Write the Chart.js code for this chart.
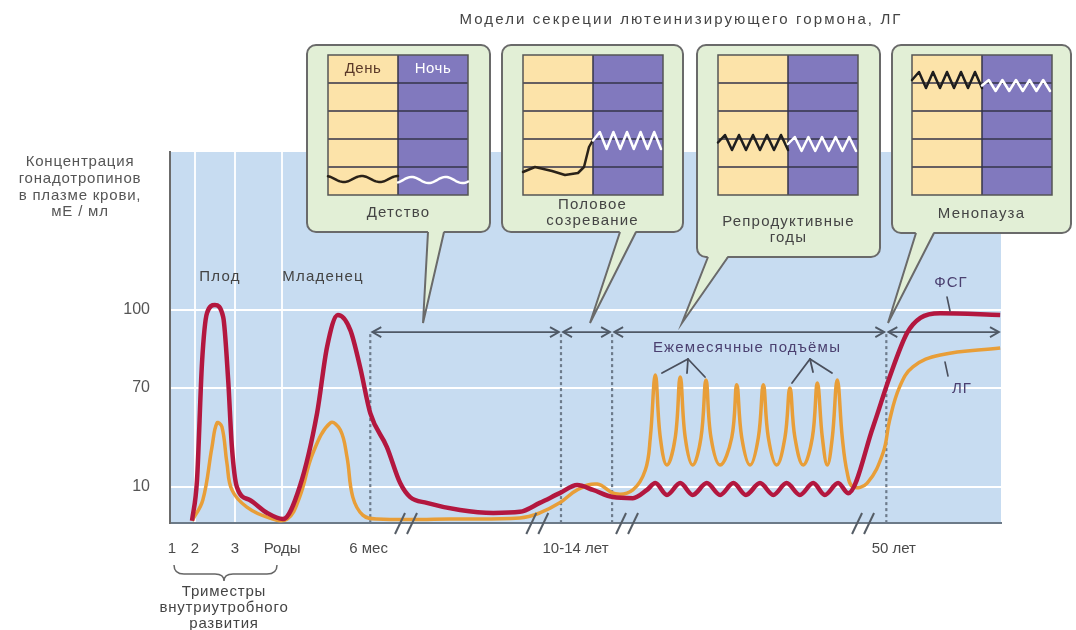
<!DOCTYPE html>
<html>
<head>
<meta charset="utf-8">
<script src="https://cdn.jsdelivr.net/npm/chart.js@4.4.1/dist/chart.umd.min.js"></script>
<style>
  html, body { margin: 0; background: #fff; }
  #wrap { width: 1076px; height: 630px; position: relative; }
</style>
</head>
<body>
<div id="wrap"><canvas id="c"></canvas></div>
<script>
// schematic time axis (0..100), breaks in the axis are only drawn marks
const xTickPos = [0.24, 3.0, 7.8, 13.5, 23.9, 48.8, 87.1];
const xTickLabels = ['1', '2', '3', 'Роды', '6 мес', '10-14 лет', '50 лет'];
const yTicks = [10, 70, 100];

// ФСГ
const fsgX = [2.65, 3.25, 3.85, 4.45, 5.4, 6.4, 7.0, 7.45, 8.05, 9.6, 11.7, 13.6, 15.6, 17.7, 18.9, 20.2, 21.7, 22.9, 24.1, 26.1,
  27.7, 28.9, 30.9, 34.9, 38.9, 42.1, 44.5, 46.9, 49.0, 50.9, 53.3, 55.7, 57.4, 58.4, 59.8, 61.4, 62.9, 64.6, 66.2, 67.8,
  69.3, 71.0, 72.6, 74.2, 75.8, 77.4, 78.8, 80.4, 81.6, 84.6, 86.6, 88.7, 90.3, 92.7, 99.9];
const fsgY = [0.6, 14.2, 79.6, 98.8, 101.9, 97.3, 73.1, 34.2, 10, 6.4, 2.8, 1.1, 10, 54.8, 85.8, 98.1, 92.3, 77.7, 54.8, 34.2,
  12.4, 7.2, 5.6, 3.6, 2.8, 3.1, 5.6, 8.3, 11.2, 9.2, 7.2, 6.9, 9.2, 12.4, 7.8, 12.4, 7.8, 12.4, 7.8, 12.4,
  7.8, 12.4, 7.8, 12.4, 7.8, 12.4, 7.8, 12.4, 8.3, 46.4, 74.2, 91.2, 97.0, 98.8, 98.1];

// ЛГ
const lhX = [2.65, 3.95, 5.05, 5.65, 6.25, 6.85, 7.45, 9.25, 12.0, 14.1, 15.6, 17.2, 19.3, 20.5, 21.3, 22.0, 23.2, 24.9, 33.7, 42.1,
  44.5, 46.9, 49.0, 51.4, 53.6, 55.7, 57.2, 57.8, 58.4, 59.0, 59.8, 60.8, 61.4, 62.0, 62.9, 63.9, 64.5, 65.1, 66.2, 67.6,
  68.2, 68.8, 69.8, 70.8, 71.4, 72.0, 73.0, 74.0, 74.6, 75.2, 76.2, 77.3, 77.9, 78.5, 79.1, 79.7, 80.3, 80.9, 81.5, 82.2,
  83.9, 85.8, 86.6, 87.8, 89.4, 92.7, 99.9];
const lhY = [0.6, 6.4, 34.2, 48.8, 46.4, 24.5, 9.2, 4.4, 1.4, 1.1, 7.2, 30.6, 48.8, 44.5, 28.2, 7.2, 2.2, 1.1, 1.1, 1.4,
  2.8, 5.6, 9.2, 11.8, 8.1, 9.2, 20.3, 40, 75, 40, 23.3, 40, 74.2, 40, 23.3, 40, 73.1, 40, 23.3, 40,
  71.2, 40, 23.3, 40, 71.2, 40, 23.3, 40, 70, 40, 23.3, 40, 71.9, 40, 23.3, 40, 73.1, 40, 18.5, 10,
  12.4, 30.6, 50.6, 70.4, 78.1, 82.7, 85.4];

const phaseX = [24.1, 47.05, 53.2, 86.2];
const breakX = [28.4, 44.2, 55.0, 83.4];
const arrowLevel = 91.5;

const FONT = '"Liberation Sans", Arial, sans-serif';

// y axis of the drawing is stretched piecewise (10 / 70 / 100 are not evenly spaced)
const yBreaks = [0, 10, 70, 100, 161];
const yFracs = [0, 0.097, 0.364, 0.574, 1];
class StepScale extends Chart.LinearScale {
  getPixelForValue(v) {
    let i = 1;
    while (i < yBreaks.length - 1 && v > yBreaks[i]) i++;
    const t = yFracs[i - 1] + (v - yBreaks[i - 1]) / (yBreaks[i] - yBreaks[i - 1]) * (yFracs[i] - yFracs[i - 1]);
    return this.getPixelForDecimal(t);
  }
  getValueForPixel(p) {
    const t = this.getDecimalForPixel(p);
    let i = 1;
    while (i < yFracs.length - 1 && t > yFracs[i]) i++;
    return yBreaks[i - 1] + (t - yFracs[i - 1]) / (yFracs[i] - yFracs[i - 1]) * (yBreaks[i] - yBreaks[i - 1]);
  }
}
StepScale.id = 'step';
StepScale.defaults = {};
Chart.register(StepScale);

function text(ctx, s, x, y, size, color, spacing, align) {
  ctx.save();
  ctx.font = size + 'px ' + FONT;
  ctx.fillStyle = color;
  ctx.textAlign = align || 'center';
  ctx.textBaseline = 'middle';
  ctx.letterSpacing = (spacing || 0) + 'px';
  ctx.fillText(s, x, y);
  ctx.restore();
}

function poly(ctx, pts, color, width) {
  ctx.save();
  ctx.beginPath();
  pts.forEach((p, i) => i ? ctx.lineTo(p[0], p[1]) : ctx.moveTo(p[0], p[1]));
  ctx.strokeStyle = color;
  ctx.lineWidth = width;
  ctx.lineJoin = 'round';
  ctx.lineCap = 'round';
  ctx.stroke();
  ctx.restore();
}

function zigzag(x0, x1, yTop, yBot, teeth) {
  const pts = [];
  const n = teeth * 2;
  for (let i = 0; i <= n; i++) {
    const y = i === 0 ? (yTop + yBot) / 2 : (i % 2 ? yTop : yBot);
    pts.push([x0 + (x1 - x0) * i / n, y]);
  }
  return pts;
}

function wave(x0, x1, yc, amp, period, phase) {
  const pts = [];
  for (let x = x0; x <= x1; x += 1) pts.push([x, yc + amp * Math.sin((x - x0) / period * 2 * Math.PI + phase)]);
  return pts;
}

const boxes = [
  { x: 307, y: 45, w: 183, h: 187, gx: 328, lines: ['Детство'], ly: [213], tail: [428, 444, 423, 323], mini: 'child' },
  { x: 502, y: 45, w: 181, h: 187, gx: 523, lines: ['Половое', 'созревание'], ly: [205, 221], tail: [620, 636, 590, 323], mini: 'puberty' },
  { x: 697, y: 45, w: 183, h: 212, gx: 718, lines: ['Репродуктивные', 'годы'], ly: [222, 238], tail: [708, 728, 682, 323], mini: 'repro' },
  { x: 892, y: 45, w: 179, h: 188, gx: 912, lines: ['Менопауза'], ly: [214], tail: [916, 934, 888, 323], mini: 'meno' }
];

function drawBox(ctx, b) {
  const bottom = b.y + b.h;
  ctx.save();
  ctx.beginPath();
  ctx.roundRect(b.x, b.y, b.w, b.h, 9);
  ctx.fillStyle = '#e2efd6';
  ctx.fill();
  ctx.strokeStyle = '#6a6a6a';
  ctx.lineWidth = 2;
  ctx.stroke();
  // tail
  const [t1, t2, tx, ty] = b.tail;
  ctx.beginPath();
  ctx.moveTo(t1, bottom - 1.5);
  ctx.lineTo(tx, ty);
  ctx.lineTo(t2, bottom - 1.5);
  ctx.closePath();
  ctx.fillStyle = '#e2efd6';
  ctx.fill();
  ctx.beginPath();
  ctx.moveTo(t1, bottom);
  ctx.lineTo(tx, ty);
  ctx.lineTo(t2, bottom);
  ctx.stroke();

  // mini chart
  const gx = b.gx, gy = 55, gw = 140, gh = 140, mid = gx + gw / 2;
  ctx.fillStyle = '#fce3a9';
  ctx.fillRect(gx, gy, gw / 2, gh);
  ctx.fillStyle = '#8179be';
  ctx.fillRect(mid, gy, gw / 2, gh);
  ctx.strokeStyle = '#34344a';
  ctx.lineWidth = 1.5;
  ctx.beginPath();
  for (let r = 1; r < 5; r++) {
    ctx.moveTo(gx, gy + r * gh / 5);
    ctx.lineTo(gx + gw, gy + r * gh / 5);
  }
  ctx.moveTo(mid, gy);
  ctx.lineTo(mid, gy + gh);
  ctx.stroke();
  ctx.strokeStyle = '#555';
  ctx.strokeRect(gx, gy, gw, gh);
  ctx.restore();

  if (b.mini === 'child') {
    text(ctx, 'День', gx + 35, 69, 15, '#5b3a29', 0.5);
    text(ctx, 'Ночь', mid + 35, 69, 15, '#ffffff', 0.5);
    poly(ctx, wave(gx, mid, 179, 3, 36, -1.2), '#2a2218', 2.5);
    poly(ctx, wave(mid, gx + gw, 180, 3, 34, 2.2), '#ffffff', 2.5);
  } else if (b.mini === 'puberty') {
    poly(ctx, [[gx, 172], [gx + 12, 167], [gx + 29, 171], [gx + 42, 175], [gx + 55, 173], [gx + 61, 167], [gx + 66, 147], [mid, 140]], '#2a2218', 2.5);
    poly(ctx, zigzag(mid, gx + gw - 2, 132, 149, 5), '#ffffff', 2.5);
  } else if (b.mini === 'repro') {
    poly(ctx, zigzag(gx, mid, 135, 150, 5), '#1e1e1e', 2.5);
    poly(ctx, zigzag(mid, gx + gw - 2, 137, 151, 5), '#ffffff', 2.5);
  } else {
    poly(ctx, zigzag(gx, mid, 72, 88, 5), '#1e1e1e', 2.5);
    poly(ctx, zigzag(mid, gx + gw - 2, 80, 91, 5), '#ffffff', 2.5);
  }
  b.lines.forEach((s, i) => text(ctx, s, b.x + b.w / 2, b.ly[i], 15, '#444', 1.2));
}

function chevron(ctx, x, y, dir) {
  ctx.beginPath();
  ctx.moveTo(x - dir * 9, y - 5);
  ctx.lineTo(x, y);
  ctx.lineTo(x - dir * 9, y + 5);
  ctx.stroke();
}

const deco = {
  id: 'deco',
  beforeDraw(chart) {
    const { ctx, chartArea: a } = chart;
    ctx.save();
    ctx.fillStyle = '#c7dcf1';
    ctx.fillRect(a.left, a.top, a.right - a.left, a.bottom - a.top);
    ctx.restore();
  },
  beforeDatasetsDraw(chart) {
    const { ctx, chartArea: a } = chart;
    const xs = chart.scales.x, ys = chart.scales.y;
    const ay = ys.getPixelForValue(arrowLevel);
    ctx.save();
    ctx.strokeStyle = '#6d7b8b';
    ctx.lineWidth = 2.2;
    ctx.setLineDash([3, 3]);
    phaseX.forEach(v => {
      const px = xs.getPixelForValue(v);
      ctx.beginPath();
      ctx.moveTo(px, ay + 2);
      ctx.lineTo(px, a.bottom);
      ctx.stroke();
    });
    ctx.setLineDash([]);
    ctx.strokeStyle = '#4f5966';
    ctx.lineWidth = 1.8;
    const ends = phaseX.concat([100]);
    for (let i = 0; i < ends.length - 1; i++) {
      const p0 = xs.getPixelForValue(ends[i]) + 2;
      const p1 = xs.getPixelForValue(ends[i + 1]) - 2;
      ctx.beginPath();
      ctx.moveTo(p0, ay);
      ctx.lineTo(p1, ay);
      ctx.stroke();
      chevron(ctx, p0, ay, -1);
      chevron(ctx, p1, ay, 1);
    }
    ctx.restore();
  },
  afterDatasetsDraw(chart) {
    const { ctx, chartArea: a } = chart;
    const xs = chart.scales.x;
    // axis breaks
    ctx.save();
    ctx.strokeStyle = '#555d66';
    ctx.lineWidth = 2;
    breakX.forEach(v => {
      const px = xs.getPixelForValue(v);
      [-6, 6].forEach(d => {
        ctx.beginPath();
        ctx.moveTo(px + d - 5, a.bottom + 11);
        ctx.lineTo(px + d + 5, a.bottom - 10);
        ctx.stroke();
      });
    });
    ctx.restore();

    // in-plot labels
    text(ctx, 'Плод', 220, 277, 15, '#444', 1.2);
    text(ctx, 'Младенец', 323, 277, 15, '#444', 1.2);
    text(ctx, 'Ежемесячные подъёмы', 747, 348, 15, '#4b4070', 1.2);
    poly(ctx, [[662, 373], [688, 359], [705, 377]], '#4a4f5c', 1.8);
    poly(ctx, [[688, 359], [687, 373]], '#4a4f5c', 1.8);
    poly(ctx, [[792, 383], [810, 359], [832, 373]], '#4a4f5c', 1.8);
    poly(ctx, [[810, 359], [813, 372]], '#4a4f5c', 1.8);
    text(ctx, 'ФСГ', 951, 283, 15, '#4b4070', 1);
    poly(ctx, [[947, 297], [950, 311]], '#4a4f5c', 1.6);
    text(ctx, 'ЛГ', 962, 389, 15, '#4b4070', 1);
    poly(ctx, [[945, 362], [948, 376]], '#4a4f5c', 1.6);
  },
  afterDraw(chart) {
    const ctx = chart.ctx;
    text(ctx, 'Модели секреции лютеинизирующего гормона, ЛГ', 681, 20, 15, '#444', 2.1);
    ['Концентрация', 'гонадотропинов', 'в плазме крови,', 'мЕ / мл'].forEach((s, i) =>
      text(ctx, s, 80, 162 + i * 16.7, 15, '#555', 0.8));
    // brace for trimesters
    ctx.save();
    ctx.strokeStyle = '#666';
    ctx.lineWidth = 1.5;
    ctx.beginPath();
    ctx.moveTo(174, 565);
    ctx.quadraticCurveTo(174, 574, 184, 574);
    ctx.lineTo(215, 574);
    ctx.quadraticCurveTo(224, 574, 224, 581);
    ctx.quadraticCurveTo(224, 574, 233, 574);
    ctx.lineTo(267, 574);
    ctx.quadraticCurveTo(277, 574, 277, 565);
    ctx.stroke();
    ctx.restore();
    ['Триместры', 'внутриутробного', 'развития'].forEach((s, i) =>
      text(ctx, s, 224, 592 + i * 16, 15, '#444', 0.8));
    boxes.forEach(b => drawBox(ctx, b));
  }
};

new Chart(document.getElementById('c'), {
  type: 'line',
  data: {
    datasets: [
      {
        label: 'ФСГ',
        data: fsgX.map((x, i) => ({ x: x, y: fsgY[i] })),
        borderColor: '#b3173f',
        borderWidth: 4.5,
        pointRadius: 0,
        cubicInterpolationMode: 'monotone',
        fill: false
      },
      {
        label: 'ЛГ',
        data: lhX.map((x, i) => ({ x: x, y: lhY[i] })),
        borderColor: '#e89e38',
        borderWidth: 3.5,
        pointRadius: 0,
        tension: 0.4,
        fill: false
      }
    ]
  },
  options: {
    responsive: true,
    maintainAspectRatio: false,
    animation: false,
    events: [],
    layout: { padding: { top: 152, right: 75, bottom: 0, left: 0 } },
    plugins: { legend: { display: false }, tooltip: { enabled: false } },
    scales: {
      x: {
        type: 'linear',
        min: 0,
        max: 100,
        afterBuildTicks: s => { s.ticks = xTickPos.map(v => ({ value: v })); },
        afterFit: s => { s.height = 107; },
        ticks: {
          callback: (v, i) => xTickLabels[i],
          color: '#4a4a4a',
          font: { family: FONT, size: 15 },
          padding: 17,
          maxRotation: 0,
          autoSkip: false
        },
        grid: {
          drawTicks: false,
          lineWidth: 2,
          color: c => (c.index >= 1 && c.index <= 3) ? 'rgba(255,255,255,0.9)' : 'rgba(0,0,0,0)'
        },
        border: { color: '#6c7a88', width: 2 }
      },
      y: {
        type: 'step',
        min: 0,
        max: 161,
        afterBuildTicks: s => { s.ticks = yTicks.map(v => ({ value: v })); },
        afterFit: s => { s.width = 170; },
        ticks: {
          callback: v => String(v),
          color: '#555',
          font: { family: FONT, size: 16 },
          padding: 20
        },
        grid: { drawTicks: false, color: '#ffffff', lineWidth: 2 },
        border: { color: '#6b6b6b', width: 2 }
      }
    }
  },
  plugins: [deco]
});
</script>
</body>
</html>
